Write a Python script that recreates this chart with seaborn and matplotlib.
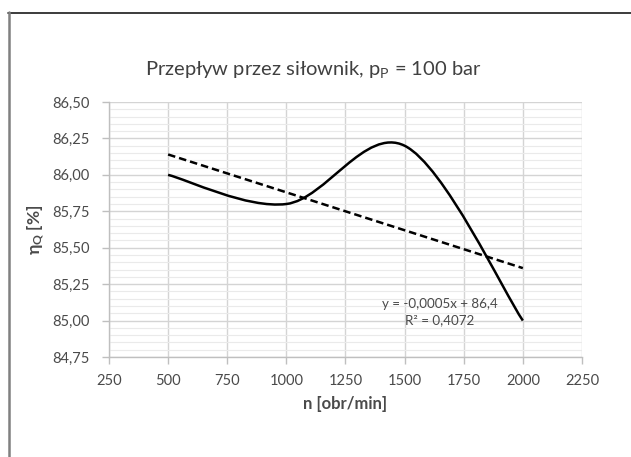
import numpy as np
import pandas as pd
import matplotlib
matplotlib.use("Agg")
import matplotlib.pyplot as plt
import seaborn as sns
from matplotlib.path import Path
from matplotlib.patches import PathPatch
from matplotlib.ticker import FuncFormatter, MultipleLocator

# measured points
speed = [500, 1000, 1500, 2000]          # n [obr/min]
efficiency = [86.00, 85.80, 86.20, 85.00]  # eta_Q [%]

x_ticks = [250, 500, 750, 1000, 1250, 1500, 1750, 2000, 2250]
y_ticks = [84.75, 85.00, 85.25, 85.50, 85.75, 86.00, 86.25, 86.50]

sns.set_style("white")
plt.rcParams['font.family'] = ['Lato', 'DejaVu Sans']
plt.rcParams['mathtext.fontset'] = 'custom'
plt.rcParams['mathtext.rm'] = 'Lato'
plt.rcParams['mathtext.it'] = 'Lato'
plt.rcParams['mathtext.bf'] = 'Lato:bold'

TXT = '#4a4a4a'
GRID = '#d4d4d4'


def smooth_path(xs, ys):
    """Excel-like smoothed line: cubic Bezier through the points."""
    pts = np.column_stack([xs, ys]).astype(float)
    verts = [pts[0]]
    codes = [Path.MOVETO]
    n = len(pts)
    for i in range(n - 1):
        p0 = pts[i - 1] if i > 0 else pts[i]
        p1, p2 = pts[i], pts[i + 1]
        p3 = pts[i + 2] if i + 2 < n else pts[i + 1]
        c1 = p1 + (p2 - p0) / 6
        c2 = p2 - (p3 - p1) / 6
        verts += [c1, c2, p2]
        codes += [Path.CURVE4] * 3
    return Path(verts, codes)


df = pd.DataFrame({'n': speed, 'eta': efficiency})

fig = plt.figure(figsize=(6.31, 4.57), dpi=100)
ax = fig.add_axes([0.1727, 0.2188, 0.7496, 0.558])

# linear trendline
sns.regplot(data=df, x='n', y='eta', scatter=False, ci=None, ax=ax,
            line_kws=dict(color='black', lw=1.8, ls=(0, (3, 1.6))))
slope, icpt = np.polyfit(speed, efficiency, 1)
r2 = np.corrcoef(speed, efficiency)[0, 1] ** 2

ax.add_patch(PathPatch(smooth_path(speed, efficiency), fill=False,
                       ec='black', lw=1.8, zorder=3))

ax.set_xlim(250, 2250)
ax.set_ylim(84.75, 86.50)
ax.set_xticks(x_ticks)
ax.set_yticks(y_ticks)
ax.yaxis.set_minor_locator(MultipleLocator(0.05))
ax.yaxis.set_major_formatter(FuncFormatter(lambda v, p: f"{v:.2f}".replace('.', ',')))
ax.xaxis.set_major_formatter(FuncFormatter(lambda v, p: f"{v:.0f}"))

ax.grid(which='major', color=GRID, lw=1.0)
ax.grid(which='minor', axis='y', color='#eaeaea', lw=0.8)
ax.set_axisbelow(True)
for s in ['top', 'right']:
    ax.spines[s].set_visible(False)
for s in ['left', 'bottom']:
    ax.spines[s].set_color('#bfbfbf')
    ax.spines[s].set_linewidth(1.0)
ax.tick_params(axis='both', which='major', length=5, width=1, color='#bfbfbf',
               labelsize=10.5, labelcolor=TXT, direction='out',
               bottom=True, left=True)
ax.tick_params(axis='x', which='major', pad=7)
ax.tick_params(axis='y', which='major', pad=9)
ax.tick_params(axis='y', which='minor', length=0)

ax.set_xlabel('n [obr/min]', fontsize=12, fontweight='bold', color=TXT, labelpad=6)
ax.set_ylabel(r'η$_{\mathbf{Q}}$ [%]', fontsize=12.5, fontweight='bold',
              color=TXT, labelpad=4)
fig.text(0.496, 0.848, r'Przepływ przez siłownik, p$_{\mathrm{P}}$ = 100 bar',
         ha='center', va='center', fontsize=14.5, color='#404040')

eq = f"y = {slope:.4f}x + {icpt:.1f}".replace('.', ',')
ax.text(1650, 85.115, eq, ha='center', va='center', fontsize=9.6, color=TXT)
ax.text(1650, 85.005, f"R² = {r2:.4f}".replace('.', ','), ha='center',
        va='center', fontsize=9.6, color=TXT)

# chart frame (cropped: only top and left edges visible)
fig.add_artist(plt.Line2D([0.0127, 1.0], [1 - 12.5 / 457] * 2, color='#1a1a1a',
                          lw=1.2, transform=fig.transFigure))
fig.add_artist(plt.Line2D([0.0135] * 2, [0.0, 1 - 12 / 457], color='#808080',
                          lw=1.8, transform=fig.transFigure))

fig.savefig('out.png', dpi=100)
